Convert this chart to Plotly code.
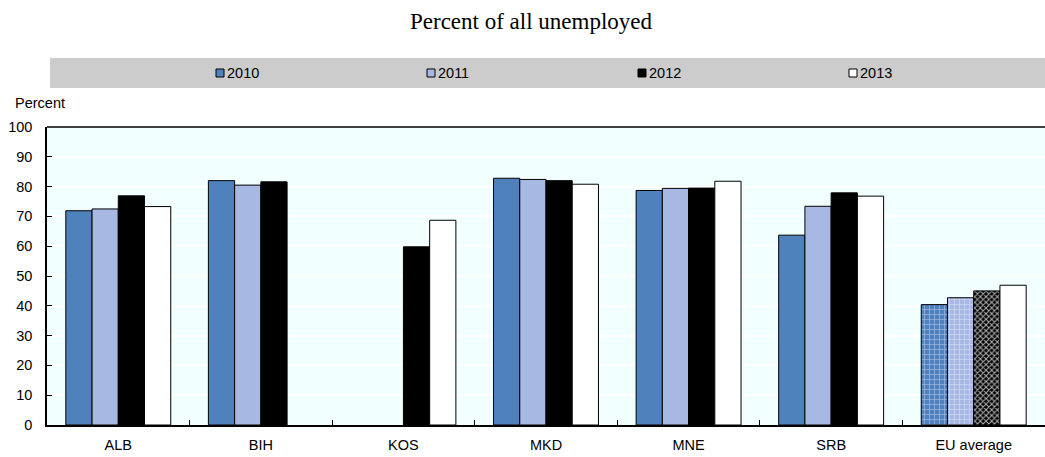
import plotly.graph_objects as go

# Long-term unemployed, share of all unemployed (%)
categories = ["ALB", "BIH", "KOS", "MKD", "MNE", "SRB", "EU average"]
years = ["2010", "2011", "2012", "2013"]
v2010 = [71.9, 82.0, None, 82.8, 78.7, 63.7, 40.4]
v2011 = [72.5, 80.5, None, 82.4, 79.4, 73.4, 42.7]
v2012 = [76.9, 81.6, 59.8, 82.0, 79.5, 77.9, 45.0]
v2013 = [73.3, None, 68.7, 80.8, 81.8, 76.8, 46.9]
series = [v2010, v2011, v2012, v2013]

fills = ["#4F81BD", "#A7B9E3", "#000000", "#FFFFFF"]
# EU average bars carry a textured fill
eu_pattern = [
    dict(shape="+", fg="#9FBCE6", size=5, solidity=0.25),
    dict(shape="+", fg="#CFDAF2", size=5, solidity=0.25),
    dict(shape="x", fg="#B0B0B0", size=4, solidity=0.45),
    dict(shape="", fg="#FFFFFF", size=5, solidity=0.3),
]

SANS = "Liberation Sans, Arial, sans-serif"
SERIF = "Liberation Serif, Times New Roman, serif"

W, H = 1045, 457
L, R, T, B = 47, 0, 127, 32
pw, ph = W - L - R, H - T - B


def px_to_paper(x, y):
    return (x - L) / pw, (H - B - y) / ph


fig = go.Figure()
for name, vals, col, pat in zip(years, series, fills, eu_pattern):
    is_eu = [c == "EU average" for c in categories]
    fig.add_trace(go.Bar(
        name=name,
        x=categories,
        y=vals,
        marker=dict(
            color=col,
            line=dict(color="#000000", width=1),
            pattern=dict(
                shape=[pat["shape"] if e else "" for e in is_eu],
                fgcolor=[pat["fg"] if e else col for e in is_eu],
                bgcolor=col,
                size=pat["size"],
                solidity=pat["solidity"],
                fillmode="replace",
            ),
        ),
        showlegend=False,
    ))

shapes = []
annotations = []

# grey legend band
x0, y0 = px_to_paper(50, 58)
x1, y1 = px_to_paper(1045, 88)
shapes.append(dict(type="rect", xref="paper", yref="paper", x0=x0, x1=x1,
                   y0=y1, y1=y0, fillcolor="#CCCCCC", line=dict(width=0),
                   layer="below"))
for i, (name, col) in enumerate(zip(years, fills)):
    mx = 216 + 211 * i
    a0, b0 = px_to_paper(mx, 69)
    a1, b1 = px_to_paper(mx + 8, 77)
    shapes.append(dict(type="rect", xref="paper", yref="paper", x0=a0, x1=a1,
                       y0=b1, y1=b0, fillcolor=col,
                       line=dict(color="#000000", width=1)))
    tx, ty = px_to_paper(mx + 9, 73)
    annotations.append(dict(text=name, xref="paper", yref="paper", x=tx, y=ty,
                            xanchor="left", yanchor="middle", showarrow=False,
                            font=dict(family=SANS, size=14.5, color="#000000")))

# top frame line
shapes.append(dict(type="line", xref="paper", yref="paper", x0=0, x1=1,
                   y0=1, y1=1, line=dict(color="#000000", width=1.5)))

px, py = px_to_paper(13, 103)
annotations.append(dict(text="Percent", xref="paper", yref="paper", x=px, y=py,
                        xanchor="left", yanchor="middle", showarrow=False,
                        font=dict(family=SANS, size=14.5, color="#000000")))

fig.update_layout(
    width=W, height=H,
    margin=dict(l=L, r=R, t=T, b=B),
    paper_bgcolor="#FFFFFF",
    plot_bgcolor="#F2FFFF",
    barmode="group",
    bargap=0.264,
    bargroupgap=0,
    title=dict(text="Percent of all unemployed", x=531 / W, xref="container",
               xanchor="center", y=1 - 21 / H, yref="container",
               yanchor="middle",
               font=dict(family=SERIF, size=23, color="#000000")),
    shapes=shapes,
    annotations=annotations,
    font=dict(family=SANS, size=14.5, color="#000000"),
)
fig.update_xaxes(
    showline=True, linecolor="#000000", linewidth=1.5,
    ticks="inside", ticklen=5, tickcolor="#000000", tickson="boundaries",
    showgrid=False, tickfont=dict(family=SANS, size=14.5),
    ticklabelstandoff=6,
)
fig.update_yaxes(
    range=[0, 100], dtick=10, showline=True, linecolor="#000000", linewidth=1.5,
    ticks="inside", ticklen=5, tickcolor="#000000",
    showgrid=True, gridcolor="#FFFFFF", gridwidth=1.5, zeroline=False,
    tickfont=dict(family=SANS, size=14.5), ticklabelstandoff=10,
)

fig.write_html("out.html")
